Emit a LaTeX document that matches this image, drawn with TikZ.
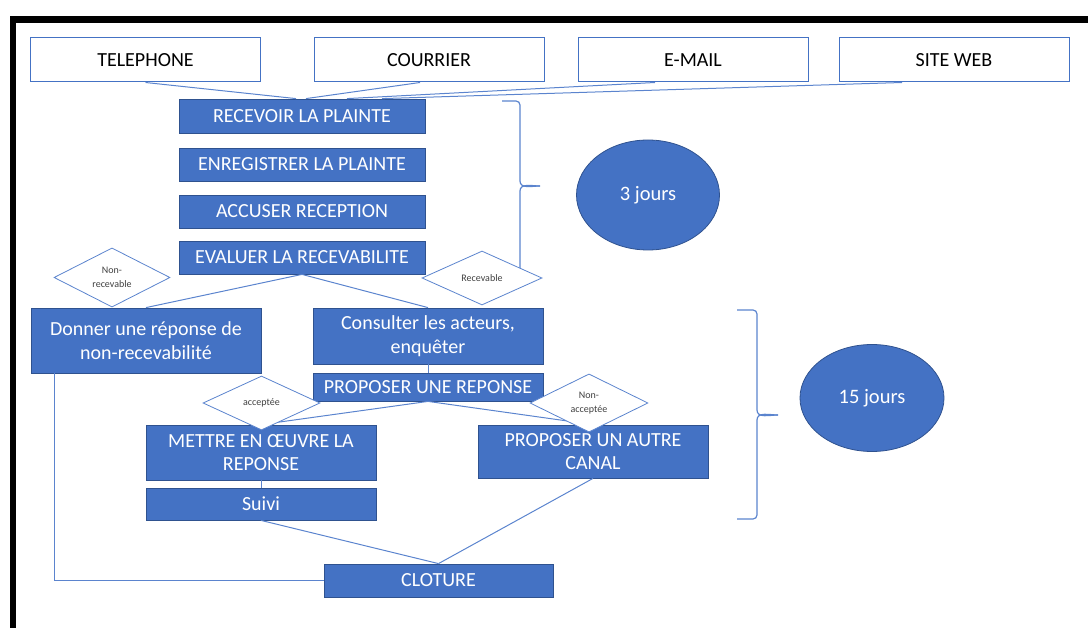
\documentclass[tikz,border=0pt]{standalone}
\usepackage{fontspec}
\setmainfont{Carlito}
\usetikzlibrary{shapes.geometric}
\definecolor{mblue}{HTML}{4472C4}
\definecolor{mdark}{HTML}{2F528F}
\definecolor{mline}{HTML}{5B84CE}
\tikzset{
  chan/.style={draw=mblue, line width=1pt, fill=white, minimum width=230pt, minimum height=44pt, inner sep=0pt, font=\fontsize{20}{24}\selectfont, text=black},
  stepbox/.style={draw=mdark, line width=0.8pt, fill=mblue, text=white, inner sep=0pt, align=center, font=\fontsize{20}{23.5}\selectfont},
  dia/.style={diamond, draw=mline, line width=0.8pt, fill=white, inner sep=0pt, align=center, font=\fontsize{10}{13.5}\selectfont, text=black!75},
  ell/.style={ellipse, draw=mdark, line width=0.8pt, fill=mblue, text=white, inner sep=0pt, font=\fontsize{20.5}{24}\selectfont},
  conn/.style={draw=mline, line width=1pt},
  brc/.style={draw=mline, line width=1.2pt}
}
\begin{document}
\begin{tikzpicture}[x=1pt,y=-1pt]
\useasboundingbox (0,0) rectangle (1088,628);
% frame
\draw[black, line width=6.5pt] (13,640) -- (13,19.5) -- (1100,19.5);
% channel boxes
\node[chan] (tel) at (145.5,60) {TELEPHONE};
\node[chan] (cour) at (429,60) {COURRIER};
\node[chan] (email) at (693,60) {E-MAIL};
\node[chan] (web) at (954,60) {SITE WEB};
% steps
\node[stepbox, minimum width=246pt, minimum height=34pt] (rec) at (302,116) {RECEVOIR LA PLAINTE};
\node[stepbox, minimum width=246pt, minimum height=33pt] (enr) at (302,164.5) {ENREGISTRER LA PLAINTE};
\node[stepbox, minimum width=246pt, minimum height=33pt] (acc) at (302,211.5) {ACCUSER RECEPTION};
\node[stepbox, minimum width=246pt, minimum height=33pt] (eva) at (302,257.5) {EVALUER LA RECEVABILITE};
\node[stepbox, minimum width=230pt, minimum height=65pt] (don) at (146,340.5) {Donner une réponse de\\non-recevabilité};
\node[stepbox, minimum width=230pt, minimum height=56pt] (con) at (428,336) {Consulter les acteurs,\\enquêter};
\node[stepbox, minimum width=230pt, minimum height=28pt] (prop) at (428,387) {PROPOSER UNE REPONSE};
\node[stepbox, minimum width=230pt, minimum height=55pt] (met) at (261,452.5) {METTRE EN ŒUVRE LA\\REPONSE};
\node[stepbox, minimum width=230pt, minimum height=53pt] (aut) at (593,451.5) {PROPOSER UN AUTRE\\CANAL};
\node[stepbox, minimum width=230pt, minimum height=32pt] (sui) at (261,504) {Suivi};
\node[stepbox, minimum width=229pt, minimum height=33pt] (clo) at (438.5,580.5) {CLOTURE};
% ellipses
\node[ell, minimum width=143pt, minimum height=110pt] (e1) at (648,195) {3 jours};
\node[ell, minimum width=144pt, minimum height=107pt] (e2) at (872,398) {15 jours};
% connectors
\draw[conn] (tel.south) -- ([xshift=-6pt]rec.north);
\draw[conn] ([xshift=-9pt]cour.south) -- ([xshift=4pt]rec.north);
\draw[conn] ([xshift=-38pt]email.south) -- ([xshift=45pt]rec.north);
\draw[conn] ([xshift=-52pt]web.south) -- ([xshift=80pt]rec.north);
\draw[conn] (eva.south) -- (don.north);
\draw[conn] (eva.south) -- (con.north);
\draw[conn] (con.south) -- (prop.north);
\draw[conn] (prop.south) -- (met.north);
\draw[conn] (prop.south) -- (aut.north);
\draw[conn] (met.south) -- (sui.north);
\draw[conn] (sui.south) -- (clo.north);
\draw[conn] (aut.south) -- (clo.north);
\draw[conn] ([xshift=24pt]don.south west) |- (clo.west);
% braces
\coordinate (b1t) at (540,186);
\draw[brc] (502,101) -- (516,101) to[out=0,in=90] (520,105) -- (520,181) to[out=-90,in=180] (b1t);
\draw[brc] (b1t) to[out=180,in=90] (520,191) -- (520,283) to[out=-90,in=0] (516,287) -- (502,287);
\coordinate (b2t) at (778,415);
\draw[brc] (737,310) -- (753,310) to[out=0,in=90] (757,314) -- (757,410) to[out=-90,in=180] (b2t);
\draw[brc] (b2t) to[out=180,in=90] (757,420) -- (757,515) to[out=-90,in=0] (753,519) -- (737,519);
% diamonds
\node[dia, minimum width=116pt, minimum height=55pt] (d1) at (112,277.5) {Non-\\recevable};
\node[dia, minimum width=120pt, minimum height=54pt] (d2) at (482,278) {Recevable};
\node[dia, minimum width=117pt, minimum height=54pt] (d3) at (261.5,403) {acceptée};
\node[dia, minimum width=118pt, minimum height=54pt] (d4) at (589,403) {Non-\\acceptée};
\end{tikzpicture}
\end{document}
